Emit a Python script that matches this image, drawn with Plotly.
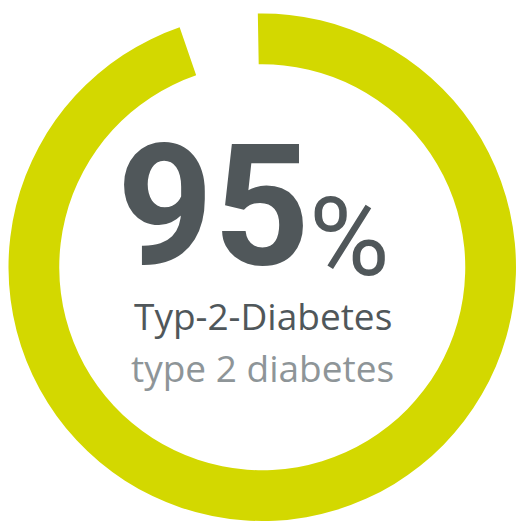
import plotly.graph_objects as go

labels = ["Typ-2-Diabetes", "Andere"]
values = [95, 5]
big_value = "95"
unit = "%"
line_de = "Typ-2-Diabetes"
line_en = "type 2 diabetes"

W, H = 516, 523
RING = "#D3D800"
DARK = "#50575A"
LIGHT = "#8E9598"

def px(x):
    return x / W

def py(y):
    return 1 - y / H

fig = go.Figure()
fig.add_trace(go.Pie(
    labels=labels,
    values=values,
    hole=0.80,
    sort=False,
    direction="clockwise",
    rotation=-1,
    marker=dict(colors=[RING, "rgba(0,0,0,0)"], line=dict(width=0)),
    textinfo="none",
    hoverinfo="none",
    showlegend=False,
    domain=dict(x=[8.5 / W, 1], y=[0, 1 - 11.5 / H]),
))

fig.add_annotation(x=px(312), y=py(206), xref="paper", yref="paper",
                   text=big_value, showarrow=False, xanchor="right", yanchor="middle",
                   height=150,
                   font=dict(family="Roboto", size=168, color=DARK, weight="bold"))
fig.add_annotation(x=px(307), y=py(238), xref="paper", yref="paper",
                   text=unit, showarrow=False, xanchor="left", yanchor="middle",
                   height=95,
                   font=dict(family="Roboto", size=110, color=DARK))
fig.add_annotation(x=px(262.5), y=py(315), xref="paper", yref="paper",
                   text=line_de, showarrow=False, xanchor="center", yanchor="middle",
                   font=dict(family="Open Sans", size=37, color=DARK))
fig.add_annotation(x=px(262.5), y=py(367), xref="paper", yref="paper",
                   text=line_en, showarrow=False, xanchor="center", yanchor="middle",
                   font=dict(family="Open Sans", size=37, color=LIGHT))

fig.update_layout(width=W, height=H, margin=dict(l=0, r=0, t=0, b=0),
                  paper_bgcolor="white", plot_bgcolor="white")
fig.write_html("out.html")
